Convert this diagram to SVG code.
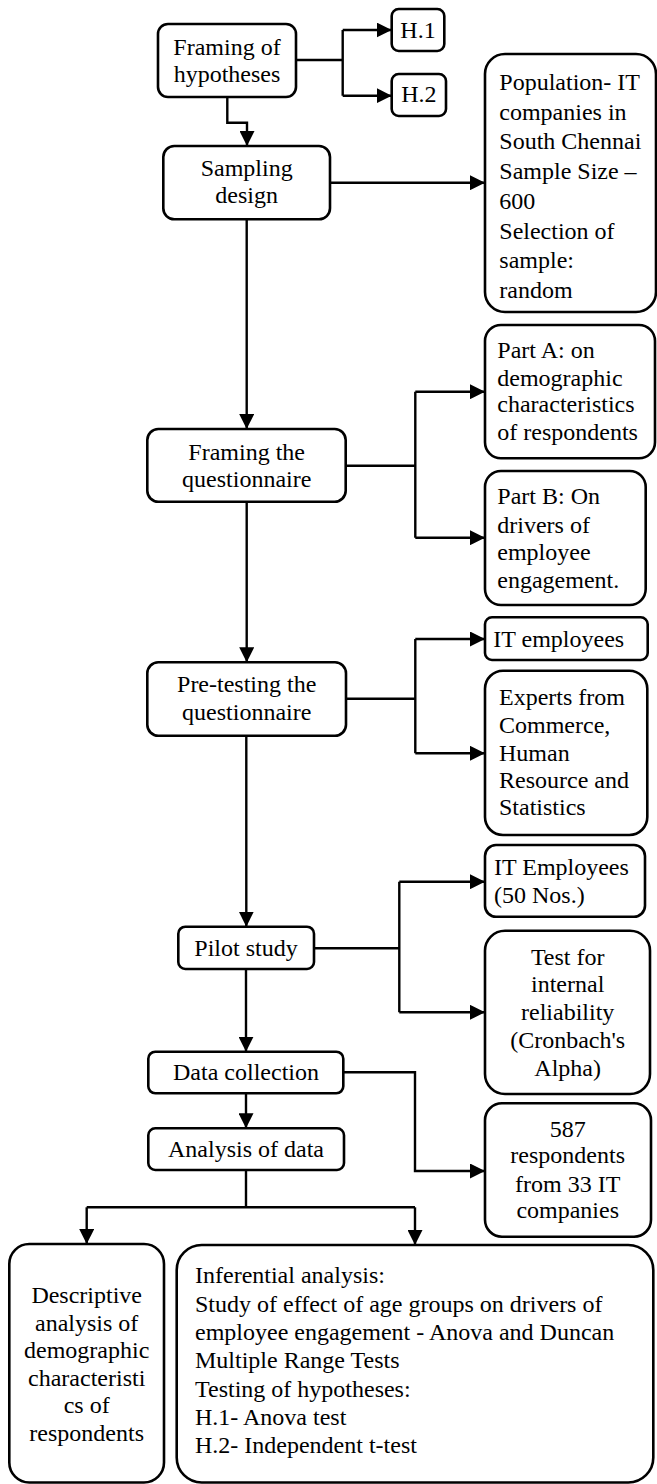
<svg xmlns="http://www.w3.org/2000/svg" width="657" height="1484" viewBox="0 0 657 1484">
<style>
  .box { fill: #ffffff; stroke: #000000; stroke-width: 2.6; }
  .conn { fill: none; stroke: #000000; stroke-width: 2.4; }
  .arr { marker-end: url(#ah); }
  text { font-family: 'Liberation Serif', Tinos, 'Times New Roman', Times, 'Nimbus Roman', serif; font-size: 24px; fill: #000000; }
  .c { text-anchor: middle; }
</style>
<defs>
  <marker id="ah" markerUnits="userSpaceOnUse" markerWidth="15" markerHeight="15" refX="15" refY="7.5" orient="auto">
    <path d="M0,0 L15,7.5 L0,15 z" fill="#000000"/>
  </marker>
</defs>
<rect width="657" height="1484" fill="#ffffff"/>

<g id="connectors">
  <path class="conn" d="M296,60 H342.7 M342.7,30 V95.7"/>
  <path class="conn arr" d="M342.7,30 H391.7"/>
  <path class="conn arr" d="M342.7,95.7 H391.7"/>
  <path class="conn arr" d="M227.3,97 V122.7 H247 V146"/>
  <path class="conn arr" d="M330,182.7 H485"/>
  <path class="conn arr" d="M246.7,219.3 V429"/>
  <path class="conn" d="M345.7,465.7 H415.3 M415.3,391.7 V537.7"/>
  <path class="conn arr" d="M415.3,391.7 H485"/>
  <path class="conn arr" d="M415.3,537.7 H485"/>
  <path class="conn arr" d="M246.7,501.7 V662.3"/>
  <path class="conn" d="M346,698.7 H415.3 M415.3,639 V753.3"/>
  <path class="conn arr" d="M415.3,639 H485"/>
  <path class="conn arr" d="M415.3,753.3 H485"/>
  <path class="conn arr" d="M246.3,735.7 V926.7"/>
  <path class="conn" d="M314,948.3 H399.3 M399.3,881.7 V1012.3"/>
  <path class="conn arr" d="M399.3,881.7 H485"/>
  <path class="conn arr" d="M399.3,1012.3 H485"/>
  <path class="conn arr" d="M246,969 V1051.7"/>
  <path class="conn arr" d="M246,1093.3 V1128.3"/>
  <path class="conn arr" d="M343.3,1072.3 H415 V1171 H485"/>
  <path class="conn" d="M246,1170 V1207.3 M86.7,1207.3 H415"/>
  <path class="conn arr" d="M86.7,1207.3 V1244"/>
  <path class="conn arr" d="M415,1207.3 V1245"/>
</g>

<g id="framing-hypotheses">
  <rect class="box" x="158" y="24" width="138" height="73" rx="10"/>
  <text class="c" x="227" y="55">Framing of</text>
  <text class="c" x="227" y="81.7">hypotheses</text>
</g>
<g id="h1">
  <rect class="box" x="391.7" y="9" width="52.6" height="42" rx="7"/>
  <text class="c" x="418" y="37.7">H.1</text>
</g>
<g id="h2">
  <rect class="box" x="391.7" y="74" width="54.3" height="42" rx="7"/>
  <text class="c" x="418.8" y="102">H.2</text>
</g>
<g id="sampling-design">
  <rect class="box" x="163.3" y="146" width="166.7" height="73.3" rx="11"/>
  <text class="c" x="246.7" y="176">Sampling</text>
  <text class="c" x="246.7" y="203.3">design</text>
</g>
<g id="population">
  <rect class="box" x="485" y="54" width="171" height="258" rx="20"/>
  <text x="499.3" y="90">Population- IT</text>
  <text x="499.3" y="119.5">companies in</text>
  <text x="499.3" y="149.3">South Chennai</text>
  <text x="499.3" y="179">Sample Size –</text>
  <text x="499.3" y="208.7">600</text>
  <text x="499.3" y="238.5">Selection of</text>
  <text x="499.3" y="268.3">sample:</text>
  <text x="499.3" y="297.7">random</text>
</g>
<g id="framing-questionnaire">
  <rect class="box" x="147.3" y="429" width="198.4" height="72.7" rx="11"/>
  <text class="c" x="246.7" y="460">Framing the</text>
  <text class="c" x="246.7" y="486.7">questionnaire</text>
</g>
<g id="part-a">
  <rect class="box" x="485" y="325" width="170" height="133.3" rx="16"/>
  <text x="497.3" y="357.7">Part A: on</text>
  <text x="497.3" y="385.7">demographic</text>
  <text x="497.3" y="412.3">characteristics</text>
  <text x="497.3" y="440">of respondents</text>
</g>
<g id="part-b">
  <rect class="box" x="485" y="471" width="160.7" height="134" rx="16"/>
  <text x="497.3" y="504.3">Part B: On</text>
  <text x="497.3" y="532.7">drivers of</text>
  <text x="497.3" y="560">employee</text>
  <text x="497.3" y="587.7">engagement.</text>
</g>
<g id="pre-testing">
  <rect class="box" x="147.3" y="662.3" width="198.7" height="73.4" rx="11"/>
  <text class="c" x="246.7" y="691.7">Pre-testing the</text>
  <text class="c" x="246.7" y="720">questionnaire</text>
</g>
<g id="it-employees">
  <rect class="box" x="485" y="617.3" width="162.7" height="42.7" rx="7"/>
  <text x="493.3" y="646.7">IT employees</text>
</g>
<g id="experts">
  <rect class="box" x="485" y="670.7" width="162.3" height="164.3" rx="18"/>
  <text x="499" y="705">Experts from</text>
  <text x="499" y="732.7">Commerce,</text>
  <text x="499" y="760.7">Human</text>
  <text x="499" y="788.3">Resource and</text>
  <text x="499" y="815">Statistics</text>
</g>
<g id="pilot-study">
  <rect class="box" x="178.3" y="926.7" width="135.7" height="42.3" rx="7"/>
  <text class="c" x="246" y="955.7">Pilot study</text>
</g>
<g id="it-employees-50">
  <rect class="box" x="485" y="845" width="160" height="71.7" rx="11"/>
  <text x="494" y="875">IT Employees</text>
  <text x="494" y="903.3">(50 Nos.)</text>
</g>
<g id="reliability">
  <rect class="box" x="485" y="930.7" width="165" height="163.3" rx="20"/>
  <text class="c" x="567.7" y="965">Test for</text>
  <text class="c" x="567.7" y="992.3">internal</text>
  <text class="c" x="567.7" y="1020">reliability</text>
  <text class="c" x="567.7" y="1048.3">(Cronbach's</text>
  <text class="c" x="567.7" y="1075.7">Alpha)</text>
</g>
<g id="data-collection">
  <rect class="box" x="148.3" y="1051.7" width="195" height="41.6" rx="7"/>
  <text class="c" x="246" y="1080">Data collection</text>
</g>
<g id="analysis-of-data">
  <rect class="box" x="148.3" y="1128.3" width="195.7" height="41.7" rx="7"/>
  <text class="c" x="246" y="1156.7">Analysis of data</text>
</g>
<g id="respondents">
  <rect class="box" x="485" y="1103.3" width="166" height="133.4" rx="17"/>
  <text class="c" x="567.7" y="1136.7">587</text>
  <text class="c" x="567.7" y="1163.3">respondents</text>
  <text class="c" x="567.7" y="1191.7">from 33 IT</text>
  <text class="c" x="567.7" y="1218.3">companies</text>
</g>
<g id="descriptive">
  <rect class="box" x="9.3" y="1244" width="154.7" height="238.5" rx="20"/>
  <text class="c" x="86.7" y="1303.3">Descriptive</text>
  <text class="c" x="86.7" y="1330.7">analysis of</text>
  <text class="c" x="86.7" y="1358.3">demographic</text>
  <text class="c" x="86.7" y="1386">characteristi</text>
  <text class="c" x="86.7" y="1413.3">cs of</text>
  <text class="c" x="86.7" y="1440.7">respondents</text>
</g>
<g id="inferential">
  <rect class="box" x="176.7" y="1245" width="476.6" height="237.5" rx="25"/>
  <text x="195" y="1283.3">Inferential analysis:</text>
  <text x="195" y="1311.7">Study of effect of age groups on drivers of</text>
  <text x="195" y="1340">employee engagement - Anova and Duncan</text>
  <text x="195" y="1368.3">Multiple Range Tests</text>
  <text x="195" y="1396.7">Testing of hypotheses:</text>
  <text x="195" y="1425">H.1- Anova test</text>
  <text x="195" y="1453.3">H.2- Independent t-test</text>
</g>
</svg>
